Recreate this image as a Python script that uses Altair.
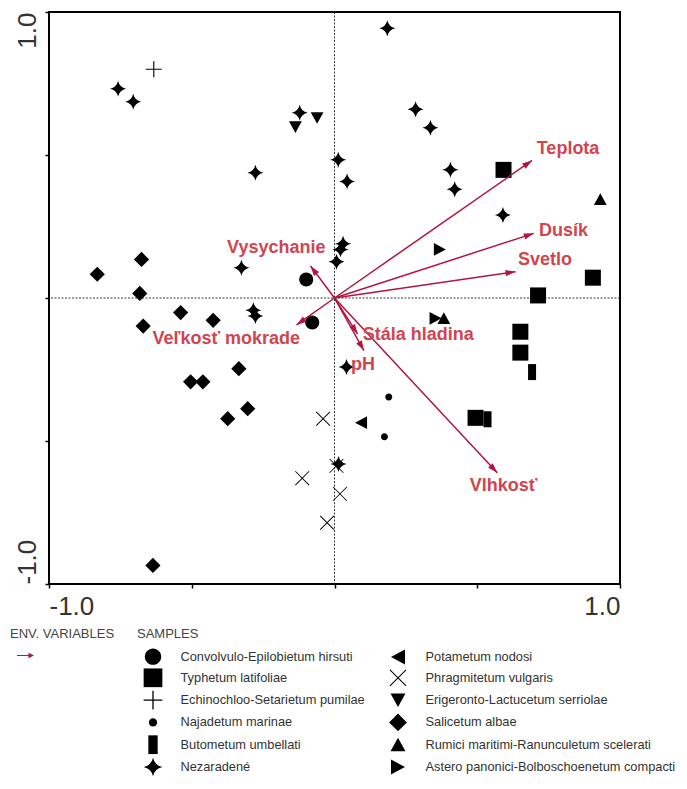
import math
import altair as alt
import pandas as pd

# ---------------- data ----------------
legend_order = [
    "Convolvulo-Epilobietum hirsuti", "Typhetum latifoliae",
    "Echinochloo-Setarietum pumilae", "Najadetum marinae",
    "Butometum umbellati", "Nezaradené",
    "Potametum nodosi", "Phragmitetum vulgaris",
    "Erigeronto-Lactucetum serriolae", "Salicetum albae",
    "Rumici maritimi-Ranunculetum scelerati", "Astero panonici-Bolboschoenetum compacti",
]

conv_x = [-0.099, -0.078]
conv_y = [0.065, -0.086]
typha_x = [0.592, 0.905, 0.713, 0.651, 0.651, 0.494]
typha_y = [0.448, 0.071, 0.009, -0.118, -0.191, -0.419]
echino_x = [-0.633]
echino_y = [0.800]
najas_x = [0.190, 0.175]
najas_y = [-0.346, -0.485]
butom_x = [0.692, 0.536]
butom_y = [-0.259, -0.424]
nez_x = [-0.758, -0.705, -0.122, -0.277, 0.013, 0.044, 0.030, 0.021, 0.007, -0.326,
         0.185, 0.284, 0.336, 0.406, 0.421, 0.590, -0.284, -0.277, 0.042, 0.014]
nez_y = [0.732, 0.686, 0.648, 0.438, 0.483, 0.407, 0.190, 0.170, 0.127, 0.106,
         0.943, 0.660, 0.595, 0.448, 0.380, 0.290, -0.043, -0.063, -0.241, -0.580]
potam_x = [0.093]
potam_y = [-0.436]
phrag_x = [-0.040, -0.113, 0.007, 0.019, -0.026]
phrag_y = [-0.422, -0.630, -0.587, -0.685, -0.786]
eriger_x = [-0.061, -0.137]
eriger_y = [0.630, 0.598]
salix_x = [-0.831, -0.676, -0.682, -0.539, -0.670, -0.425, -0.335, -0.504, -0.461, -0.304, -0.374, -0.636]
salix_y = [0.083, 0.135, 0.016, -0.051, -0.098, -0.078, -0.247, -0.293, -0.293, -0.387, -0.422, -0.935]
rumex_x = [0.931, 0.383]
rumex_y = [0.345, -0.071]
aster_x = [0.369, 0.354]
aster_y = [0.170, -0.071]

env_names = ["Teplota", "Dusík", "Svetlo", "Vysychanie", "Veľkosť mokrade",
             "Stála hladina", "pH", "Vlhkosť"]
env_x = [0.692, 0.698, 0.634, -0.084, -0.133, 0.081, 0.103, 0.570]
env_y = [0.481, 0.226, 0.092, 0.112, -0.094, -0.126, -0.184, -0.611]
env_label_x = [0.818, 0.802, 0.737, -0.204, -0.379, 0.293, 0.100, 0.592]
env_label_y = [0.521, 0.233, 0.133, 0.175, -0.143, -0.131, -0.234, -0.657]

tick_values = [-1.0, -0.5, 0.0, 0.5, 1.0]

# ---------------- tables ----------------
groups = [
    ("Convolvulo-Epilobietum hirsuti", conv_x, conv_y),
    ("Typhetum latifoliae", typha_x, typha_y),
    ("Echinochloo-Setarietum pumilae", echino_x, echino_y),
    ("Najadetum marinae", najas_x, najas_y),
    ("Butometum umbellati", butom_x, butom_y),
    ("Nezaradené", nez_x, nez_y),
    ("Potametum nodosi", potam_x, potam_y),
    ("Phragmitetum vulgaris", phrag_x, phrag_y),
    ("Erigeronto-Lactucetum serriolae", eriger_x, eriger_y),
    ("Salicetum albae", salix_x, salix_y),
    ("Rumici maritimi-Ranunculetum scelerati", rumex_x, rumex_y),
    ("Astero panonici-Bolboschoenetum compacti", aster_x, aster_y),
]
rows = []
for name, xs, ys in groups:
    for xv, yv in zip(xs, ys):
        rows.append({"cls": name, "x": xv, "y": yv})
samples = pd.DataFrame(rows)

env = pd.DataFrame({
    "name": env_names, "x": env_x, "y": env_y,
    "lx": env_label_x, "ly": env_label_y,
})
env["ox"] = 0.0
env["oy"] = 0.0
env["kind"] = "env"
env["ang"] = [(math.degrees(math.atan2(a, b)) + 360.0) % 360.0 for a, b in zip(env_x, env_y)]

zero_df = pd.DataFrame({"v": [0.0]})

# ---------------- styles ----------------
ARROW = "#b2153f"
LABEL = "#d1454f"
FONT = "Liberation Sans"

c = 0.875
d = 0.44
shape_paths = {
    "Convolvulo-Epilobietum hirsuti": f"M{c},0A{c},{c},0,1,1,-{c},0A{c},{c},0,1,1,{c},0Z",
    "Typhetum latifoliae": "M-1,-1L1,-1L1,1L-1,1Z",
    "Echinochloo-Setarietum pumilae": "M-1,-0.07L1,-0.07L1,0.07L-1,0.07ZM-0.07,-1L0.07,-1L0.07,1L-0.07,1Z",
    "Najadetum marinae": f"M{d},0A{d},{d},0,1,1,-{d},0A{d},{d},0,1,1,{d},0Z",
    "Butometum umbellati": "M-0.5,-1L0.5,-1L0.5,1L-0.5,1Z",
    "Nezaradené": "M0,-1Q0.18,-0.18,1,0Q0.18,0.18,0,1Q-0.18,0.18,-1,0Q-0.18,-0.18,0,-1Z",
    "Potametum nodosi": "M-0.75,0L0.75,-0.8L0.75,0.8Z",
    "Phragmitetum vulgaris": "M-0.9,-0.82L-0.82,-0.9L0.9,0.82L0.82,0.9ZM0.82,-0.9L0.9,-0.82L-0.82,0.9L-0.9,0.82Z",
    "Erigeronto-Lactucetum serriolae": "M-0.8,-0.7L0.8,-0.7L0,0.75Z",
    "Salicetum albae": "M0,-0.95L0.95,0L0,0.95L-0.95,0Z",
    "Rumici maritimi-Ranunculetum scelerati": "M0,-0.75L0.8,0.7L-0.8,0.7Z",
    "Astero panonici-Bolboschoenetum compacti": "M0.75,0L-0.75,-0.8L-0.75,0.8Z",
}
HEAD = "M0,0L0.32,1L-0.32,1Z"
ARROW_SYM = "M-1,-0.07L0.35,-0.07L0.35,-0.32L1,0L0.35,0.32L0.35,0.07L-1,0.07Z"

xscale = alt.Scale(domain=[-1, 1], nice=False, zero=False)
yscale = alt.Scale(domain=[-1, 1], nice=False, zero=False)
label_expr = "datum.value == 1 ? '1.0' : (datum.value == -1 ? '-1.0' : '')"
axis_common = dict(values=tick_values, grid=False, domain=False, ticks=True, tickSize=4,
                   tickWidth=1.5, tickColor="#000", labelFont=FONT, labelFontSize=26,
                   labelColor="#333", title=None, labelExpr=label_expr, labelOverlap=False)
x_axis = alt.Axis(**axis_common, labelFlush=True, labelPadding=5, labelBaseline="top")
y_axis = alt.Axis(**axis_common, labelAngle=270,
                  labelAlign={"condition": {"test": "datum.value > 0", "value": "right"}, "value": "left"},
                  labelBaseline="alphabetic", labelPadding=10)


def X(f):
    return alt.X(f"{f}:Q", scale=xscale, axis=x_axis)


def Y(f):
    return alt.Y(f"{f}:Q", scale=yscale, axis=y_axis)


vline = alt.Chart(zero_df).mark_rule(strokeDash=[2, 1.5], strokeWidth=0.9, color="#222").encode(x=X("v"))
hline = alt.Chart(zero_df).mark_rule(strokeDash=[2, 1.5], strokeWidth=0.9, color="#222").encode(y=Y("v"))

points = alt.Chart(samples).mark_point(filled=True, size=256, opacity=1, color="black", strokeWidth=0).encode(
    x=X("x"), y=Y("y"),
    shape=alt.Shape("cls:N",
                    scale=alt.Scale(domain=legend_order, range=[shape_paths[k] for k in legend_order]),
                    legend=alt.Legend(title="SAMPLES", orient="none", legendX=88, legendY=616,
                                      columns=2, columnPadding=17, rowPadding=3.3,
                                      symbolSize=350, symbolOffset=6.5, labelOffset=18,
                                      labelFont=FONT, labelFontSize=12.8, labelColor="#333",
                                      labelLimit=400, labelBaseline="middle",
                                      titleFont=FONT, titleFontSize=13, titleFontWeight="normal",
                                      titleColor="#444", titlePadding=6,
                                      symbolFillColor="black", symbolStrokeWidth=0, symbolOpacity=1)),
)

arrows = alt.Chart(env).mark_rule(color=ARROW, strokeWidth=1.5).encode(
    x=X("ox"), y=Y("oy"), x2="x:Q", y2="y:Q")

heads = alt.Chart(env).mark_point(filled=True, size=400, shape=HEAD, opacity=1, strokeWidth=0).encode(
    x=X("x"), y=Y("y"),
    angle=alt.Angle("ang:Q", scale=None),
    color=alt.Color("kind:N", scale=alt.Scale(domain=["env"], range=[ARROW]),
                    legend=alt.Legend(title="ENV. VARIABLES", orient="none", legendX=-39, legendY=616,
                                      symbolType=ARROW_SYM, symbolSize=289, symbolOffset=7,
                                      labelExpr="''", symbolStrokeWidth=0, symbolOpacity=1,
                                      titleFont=FONT, titleFontSize=13, titleFontWeight="normal",
                                      titleColor="#444", titlePadding=6)),
)

labels = alt.Chart(env).mark_text(font=FONT, fontSize=18, fontWeight="bold", color=LABEL,
                                  align="center", baseline="middle").encode(
    x=X("lx"), y=Y("ly"), text="name:N")

chart = alt.layer(vline, hline, points, arrows, heads, labels).properties(
    width=571, height=572,
    autosize=alt.AutoSizeParams(type="none"),
    padding={"left": 41, "top": 4, "right": 59, "bottom": 192},
).configure(font=FONT).configure_view(stroke="#000", strokeWidth=2)

chart.save("out.html", embed_options={"renderer": "svg", "actions": False})
